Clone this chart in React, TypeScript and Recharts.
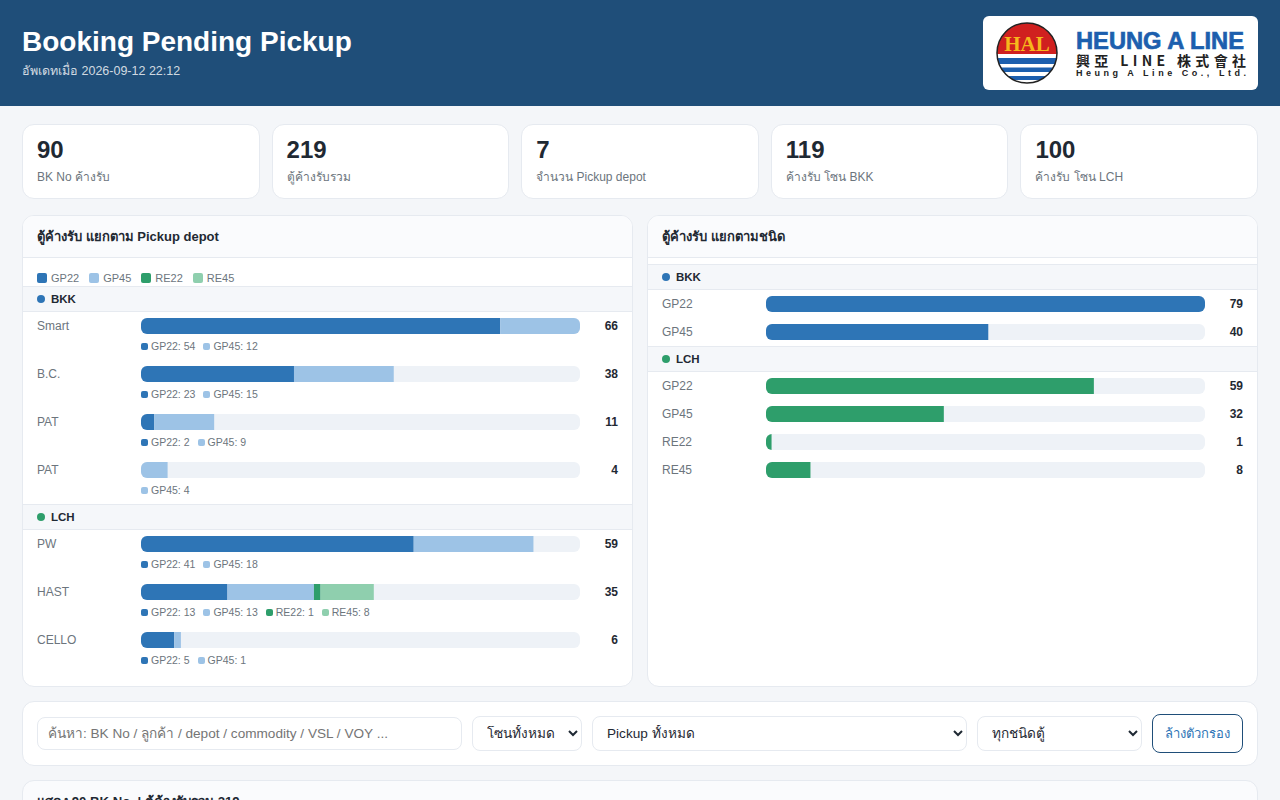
import React from "react";
import { Bar, BarChart, XAxis, YAxis } from "recharts";

const containerTypes = ["GP22", "GP45", "RE22", "RE45"];
const typeColors: Record<string, string> = {
  GP22: "#2e75b6",
  GP45: "#9dc3e6",
  RE22: "#2e9e6b",
  RE45: "#8fcfae",
};

const kpiValues = ["90", "219", "7", "119", "100"];
const kpiLabels = ["BK No ค้างรับ", "ตู้ค้างรับรวม", "จำนวน Pickup depot", "ค้างรับ โซน BKK", "ค้างรับ โซน LCH"];

const bkkDepots = ["Smart", "B.C.", "PAT", "PAT"];
const bkkGP22 = [54, 23, 2, 0];
const bkkGP45 = [12, 15, 9, 4];

const lchDepots = ["PW", "HAST", "CELLO"];
const lchGP22 = [41, 13, 5];
const lchGP45 = [18, 13, 1];
const lchRE22 = [0, 1, 0];
const lchRE45 = [0, 8, 0];

const depotMax = 66;

const bkkTypes = ["GP22", "GP45"];
const bkkTypeTotals = [79, 40];
const lchTypes = ["GP22", "GP45", "RE22", "RE45"];
const lchTypeTotals = [59, 32, 1, 8];
const typeMax = 79;

const textDark = "#1f2933";
const textMuted = "#6c757d";
const line = "#e6eaf0";
const font = "'Liberation Sans', Arial, sans-serif";

function MeterBar({ row, keys, colors, max }: { row: any; keys: string[]; colors: string[]; max: number }) {
  return (
    <div style={{ width: 439, height: 16, background: "#eef2f7", borderRadius: 6, overflow: "hidden" }}>
      <BarChart
        width={439}
        height={16}
        data={[row]}
        layout="vertical"
        margin={{ top: 0, right: 0, bottom: 0, left: 0 }}
        barCategoryGap={0}
      >
        <XAxis type="number" domain={[0, max]} hide />
        <YAxis type="category" dataKey="name" hide />
        {keys.map((k, i) => (
          <Bar key={k} dataKey={k} stackId="a" fill={colors[i]} isAnimationActive={false} />
        ))}
      </BarChart>
    </div>
  );
}

function ZoneBand({ name, color, top }: { name: string; color: string; top: number }) {
  return (
    <div
      style={{
        position: "absolute",
        left: 0,
        right: 0,
        top,
        height: 26,
        boxSizing: "border-box",
        background: "#f5f7fa",
        borderTop: `1px solid ${line}`,
        borderBottom: `1px solid ${line}`,
        display: "flex",
        alignItems: "center",
        paddingLeft: 14,
        fontSize: 11.5,
        fontWeight: 700,
        color: textDark,
      }}
    >
      <span style={{ width: 8, height: 8, borderRadius: 4, background: color, marginRight: 6 }} />
      {name}
    </div>
  );
}

function DepotRow({ name, row, top }: { name: string; row: any; top: number }) {
  const used = containerTypes.filter((t) => row[t] > 0);
  const total = used.reduce((s, t) => s + row[t], 0);
  return (
    <div style={{ position: "absolute", left: 0, right: 0, top, height: 48 }}>
      <div style={{ position: "absolute", left: 14, top: 0, lineHeight: "16px", fontSize: 12, color: textMuted }}>{name}</div>
      <div style={{ position: "absolute", left: 118, top: 0 }}>
        <MeterBar row={row} keys={containerTypes} colors={containerTypes.map((t) => typeColors[t])} max={depotMax} />
      </div>
      <div style={{ position: "absolute", right: 14, top: 0, lineHeight: "16px", fontSize: 12, fontWeight: 700, color: textDark }}>{total}</div>
      <div style={{ position: "absolute", left: 118, top: 21, display: "flex", gap: 8, fontSize: 10.5, lineHeight: "14px", color: textMuted }}>
        {used.map((t) => (
          <span key={t} style={{ display: "flex", alignItems: "center" }}>
            <span style={{ width: 7, height: 7, borderRadius: 2, background: typeColors[t], marginRight: 3 }} />
            {t}: {row[t]}
          </span>
        ))}
      </div>
    </div>
  );
}

function TypeRow({ name, value, color, top }: { name: string; value: number; color: string; top: number }) {
  return (
    <div style={{ position: "absolute", left: 0, right: 0, top, height: 16 }}>
      <div style={{ position: "absolute", left: 14, top: 0, lineHeight: "16px", fontSize: 12, color: textMuted }}>{name}</div>
      <div style={{ position: "absolute", left: 118, top: 0 }}>
        <MeterBar row={{ name, value }} keys={["value"]} colors={[color]} max={typeMax} />
      </div>
      <div style={{ position: "absolute", right: 14, top: 0, lineHeight: "16px", fontSize: 12, fontWeight: 700, color: textDark }}>{value}</div>
    </div>
  );
}

function Panel({ title, left, children }: { title: string; left: number; children: React.ReactNode }) {
  return (
    <div
      style={{
        position: "absolute",
        left,
        top: 215,
        width: 611,
        height: 472,
        boxSizing: "border-box",
        background: "#fff",
        border: `1px solid ${line}`,
        borderRadius: 12,
        overflow: "hidden",
      }}
    >
      <div
        style={{
          height: 41,
          background: "#fafbfd",
          borderBottom: `1px solid ${line}`,
          paddingLeft: 14,
          lineHeight: "41px",
          fontSize: 13,
          fontWeight: 700,
          color: textDark,
        }}
      >
        {title}
      </div>
      {children}
    </div>
  );
}

function Logo() {
  return (
    <div style={{ position: "absolute", left: 983, top: 16, width: 275, height: 74, background: "#fff", borderRadius: 6 }}>
      <svg width={275} height={74}>
        <defs>
          <clipPath id="halClip">
            <circle cx={44} cy={37} r={30} />
          </clipPath>
        </defs>
        <g clipPath="url(#halClip)">
          <rect x={14} y={7} width={60} height={31} fill="#d0201f" />
          <rect x={14} y={38} width={60} height={30} fill="#fff" />
          <rect x={14} y={42} width={60} height={6} fill="#1c5fae" />
          <rect x={14} y={51.5} width={60} height={4.5} fill="#1c5fae" />
          <rect x={14} y={60} width={60} height={4} fill="#1c5fae" />
        </g>
        <circle cx={44} cy={37} r={30} fill="none" stroke="#222" strokeWidth={1.5} />
        <text x={44} y={34.5} textAnchor="middle" fontFamily="'Liberation Serif', serif" fontWeight={700} fontSize={21} fill="#f6b81c">HAL</text>
        <text x={93} y={33} fontFamily={font} fontWeight={700} fontSize={23.7} fill="#1c5fae" stroke="#1c5fae" strokeWidth={0.7}>HEUNG A LINE</text>
        <text x={93} y={50} fontFamily="'Noto Sans CJK TC', sans-serif" fontWeight={700} fontSize={14} fill="#222" textLength={170}>興亞 LINE 株式會社</text>
        <text x={93} y={60} fontFamily={font} fontWeight={700} fontSize={9} fill="#222" textLength={170}>Heung A Line Co., Ltd.</text>
      </svg>
    </div>
  );
}

const selectStyle: React.CSSProperties = {
  position: "absolute",
  top: 716,
  height: 35,
  boxSizing: "border-box",
  background: "#fff",
  border: `1px solid ${line}`,
  borderRadius: 8,
  padding: "0 0 0 10px",
  fontSize: 13.6,
  fontFamily: font,
  color: textDark,
};

export default function App() {
  const bkkRows = bkkDepots.map((name, i) => ({ name, GP22: bkkGP22[i], GP45: bkkGP45[i], RE22: 0, RE45: 0 }));
  const lchRows = lchDepots.map((name, i) => ({ name, GP22: lchGP22[i], GP45: lchGP45[i], RE22: lchRE22[i], RE45: lchRE45[i] }));

  return (
    <div style={{ position: "absolute", left: 0, top: 0, width: 1280, height: 800, overflow: "hidden", background: "#f4f6f9", fontFamily: font }}>
      <div style={{ position: "absolute", left: 0, top: 0, width: 1280, height: 106, background: "#1f4e79" }}>
        <div style={{ position: "absolute", left: 22, top: 24, fontSize: 28, lineHeight: "36px", fontWeight: 700, color: "#fff" }}>Booking Pending Pickup</div>
        <div style={{ position: "absolute", left: 22, top: 62, fontSize: 12.5, lineHeight: "18px", color: "rgba(255,255,255,0.8)" }}>อัพเดทเมื่อ 2026-09-12 22:12</div>
      </div>
      <Logo />

      {kpiValues.map((v, i) => (
        <div
          key={i}
          style={{
            position: "absolute",
            left: 22 + i * 249.6,
            top: 124,
            width: 237.6,
            height: 75,
            boxSizing: "border-box",
            background: "#fff",
            border: `1px solid ${line}`,
            borderRadius: 12,
          }}
        >
          <div style={{ position: "absolute", left: 14, top: 10, fontSize: 24, lineHeight: "30px", fontWeight: 700, color: textDark }}>{v}</div>
          <div style={{ position: "absolute", left: 14, top: 43, fontSize: 12, lineHeight: "18px", color: textMuted }}>{kpiLabels[i]}</div>
        </div>
      ))}

      <Panel title="ตู้ค้างรับ แยกตาม Pickup depot" left={22}>
        <div style={{ position: "absolute", left: 14, top: 55, display: "flex", gap: 10, fontSize: 11, lineHeight: "14px", color: textMuted }}>
          {containerTypes.map((t) => (
            <span key={t} style={{ display: "flex", alignItems: "center" }}>
              <span style={{ width: 10, height: 10, borderRadius: 2, background: typeColors[t], marginRight: 4 }} />
              {t}
            </span>
          ))}
        </div>
        <ZoneBand name="BKK" color={typeColors.GP22} top={70} />
        {bkkRows.map((r, i) => (
          <DepotRow key={i} name={r.name} row={r} top={102 + i * 48} />
        ))}
        <ZoneBand name="LCH" color={typeColors.RE22} top={288} />
        {lchRows.map((r, i) => (
          <DepotRow key={i} name={r.name} row={r} top={320 + i * 48} />
        ))}
      </Panel>

      <Panel title="ตู้ค้างรับ แยกตามชนิด" left={647}>
        <ZoneBand name="BKK" color={typeColors.GP22} top={48} />
        {bkkTypes.map((t, i) => (
          <TypeRow key={t} name={t} value={bkkTypeTotals[i]} color={typeColors.GP22} top={80 + i * 28} />
        ))}
        <ZoneBand name="LCH" color={typeColors.RE22} top={130} />
        {lchTypes.map((t, i) => (
          <TypeRow key={t} name={t} value={lchTypeTotals[i]} color={typeColors.RE22} top={162 + i * 28} />
        ))}
      </Panel>

      <div style={{ position: "absolute", left: 22, top: 701, width: 1236, height: 65, boxSizing: "border-box", background: "#fff", border: `1px solid ${line}`, borderRadius: 12 }} />
      <input
        placeholder="ค้นหา: BK No / ลูกค้า / depot / commodity / VSL / VOY ..."
        style={{ ...selectStyle, left: 37, top: 717, width: 425, height: 33, outline: "none" }}
      />
      <select style={{ ...selectStyle, left: 472, width: 110 }}><option>โซนทั้งหมด</option></select>
      <select style={{ ...selectStyle, left: 592, width: 375 }}><option>Pickup ทั้งหมด</option></select>
      <select style={{ ...selectStyle, left: 977, width: 165 }}><option>ทุกชนิดตู้</option></select>
      <button
        style={{
          position: "absolute",
          left: 1152,
          top: 714,
          width: 91,
          height: 39,
          background: "#fff",
          border: "1px solid #1f4e79",
          borderRadius: 8,
          color: "#2e75b6",
          fontSize: 13,
          fontFamily: font,
          padding: 0,
        }}
      >
        ล้างตัวกรอง
      </button>

      <div style={{ position: "absolute", left: 22, top: 780, width: 1236, height: 60, boxSizing: "border-box", background: "#fafbfd", border: `1px solid ${line}`, borderRadius: 12 }}>
        <div style={{ position: "absolute", left: 14, top: 12, fontSize: 13.2, lineHeight: "18px", fontWeight: 700, color: textDark }}>แสดง 90 BK No. | ตู้ค้างรับรวม 219</div>
      </div>
    </div>
  );
}
